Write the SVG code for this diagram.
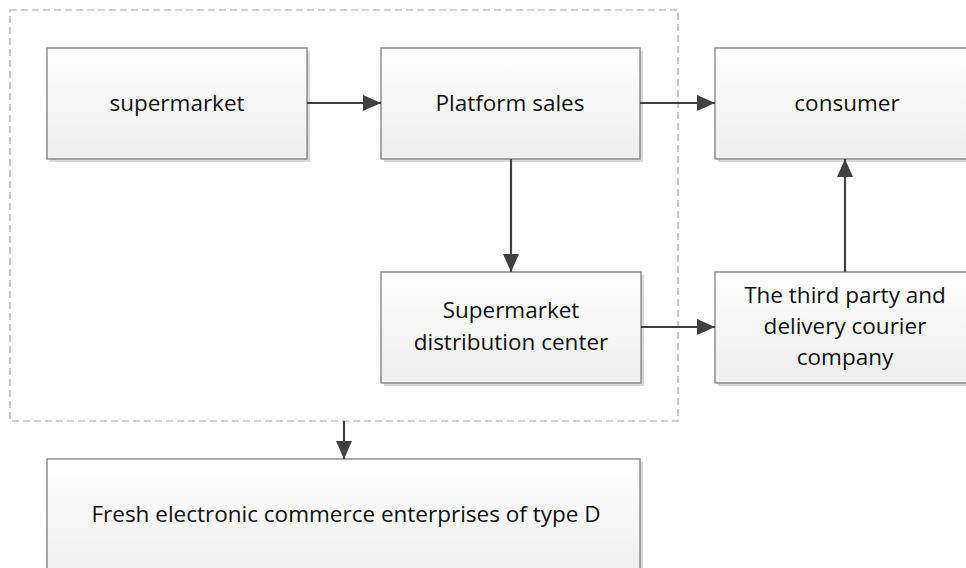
<svg xmlns="http://www.w3.org/2000/svg" width="966" height="568" viewBox="0 0 966 568">
<defs>
<linearGradient id="g" x1="0" y1="0" x2="0" y2="1">
<stop offset="0" stop-color="#ffffff"/>
<stop offset="1" stop-color="#eeeeee"/>
</linearGradient>
<marker id="ah" markerWidth="18" markerHeight="16" refX="18" refY="8" orient="auto" markerUnits="userSpaceOnUse">
<path d="M0,0 L18,8 L0,16 Z" fill="#404040"/>
</marker>
</defs>
<style>
.box{fill:url(#g);stroke:#7f7f7f;stroke-width:1.3}
.sh{fill:#d9d9d9}
.t{font-family:"Open Sans","Liberation Sans",sans-serif;font-size:22.5px;fill:#111;text-anchor:middle}
.c{stroke:#404040;stroke-width:2.2;fill:none;marker-end:url(#ah)}
.grp{fill:none;stroke:#a6a6a6;stroke-width:1.2;stroke-dasharray:7,4}
</style>
<rect id="group" class="grp" x="10" y="10" width="668" height="411"/>
<g id="supermarket">
<rect class="sh" x="50" y="51" width="260" height="111"/>
<rect class="box" x="47" y="48" width="260" height="111"/>
<text class="t" x="177" y="111">supermarket</text>
</g>
<g id="platform">
<rect class="sh" x="384" y="51" width="259" height="111"/>
<rect class="box" x="381" y="48" width="259" height="111"/>
<text class="t" x="510" y="111">Platform sales</text>
</g>
<g id="consumer">
<rect class="sh" x="718" y="51" width="260" height="111"/>
<rect class="box" x="715" y="48" width="260" height="111"/>
<text class="t" x="847" y="111">consumer</text>
</g>
<g id="distribution">
<rect class="sh" x="384" y="275" width="260" height="111"/>
<rect class="box" x="381" y="272" width="260" height="111"/>
<text class="t" x="511" y="318">Supermarket</text>
<text class="t" x="511" y="350">distribution center</text>
</g>
<g id="thirdparty">
<rect class="sh" x="718" y="275" width="260" height="111"/>
<rect class="box" x="715" y="272" width="260" height="111"/>
<text class="t" x="845" y="303">The third party and</text>
<text class="t" x="845" y="334">delivery courier</text>
<text class="t" x="845" y="365">company</text>
</g>
<g id="fresh">
<rect class="sh" x="50" y="462" width="593" height="120"/>
<rect class="box" x="47" y="459" width="593" height="120"/>
<text class="t" x="346" y="522">Fresh electronic commerce enterprises of type D</text>
</g>
<g id="connectors">
<line class="c" x1="307" y1="103" x2="381" y2="103"/>
<line class="c" x1="640" y1="103" x2="715" y2="103"/>
<line class="c" x1="511" y1="159" x2="511" y2="272"/>
<line class="c" x1="641" y1="327" x2="715" y2="327"/>
<line class="c" x1="845" y1="272" x2="845" y2="159"/>
<line class="c" x1="344" y1="421" x2="344" y2="459"/>
</g>
</svg>
